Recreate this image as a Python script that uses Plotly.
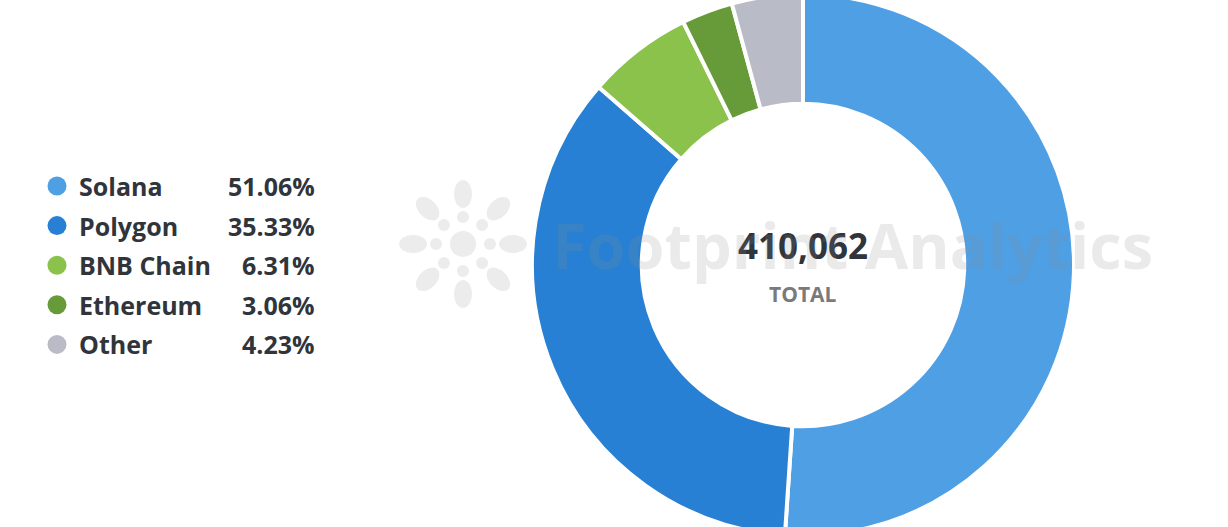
import math
import plotly.graph_objects as go

# ---- data ----
chains = ["Solana", "Polygon", "BNB Chain", "Ethereum", "Other"]
shares = [51.06, 35.33, 6.31, 3.06, 4.23]
colors = ["#4f9fe4", "#2780d3", "#8bc24c", "#679a39", "#b9bbc7"]
total_value = 410062
center_label = "TOTAL"
watermark = "Footprint Analytics"

W, H = 1228, 542
TOP = -6  # screen y of figure top

fig = go.Figure()

# donut
cx, r = 803, 271
fig.add_trace(go.Pie(
    labels=chains, values=shares, sort=False, direction="clockwise",
    hole=0.595, textinfo="none", hoverinfo="label+percent",
    marker=dict(colors=colors, line=dict(color="white", width=4)),
    domain=dict(x=[(cx - r) / W, (cx + r) / W], y=[0, 1]),
    showlegend=False,
))

# custom legend (pixel axes)
row0, step = 186, 39.6
ys = [row0 + i * step for i in range(len(chains))]
fig.add_trace(go.Scatter(
    x=[57] * len(chains), y=ys, mode="markers",
    marker=dict(size=19, color=colors), hoverinfo="skip", showlegend=False,
    xaxis="x", yaxis="y",
))
font = "Open Sans, Noto Sans, sans-serif"
for name, s, y in zip(chains, shares, ys):
    fig.add_annotation(x=77, y=y, xref="x", yref="y", text=f"<b>{name}</b>",
                       showarrow=False, xanchor="left", yanchor="middle",
                       font=dict(family=font, size=25, color="#30343b"))
    fig.add_annotation(x=317, y=y, xref="x", yref="y", text=f"<b>{s:.2f}%</b>",
                       showarrow=False, xanchor="right", yanchor="middle",
                       font=dict(family=font, size=25, color="#30343b"))

# center text
fig.add_annotation(x=cx, y=245, xref="x", yref="y", text=f"<b>{total_value:,}</b>",
                   showarrow=False, xanchor="center", yanchor="middle",
                   font=dict(family=font, size=35, color="#30343b"))
fig.add_annotation(x=cx, y=294, xref="x", yref="y", text=f"<b>{center_label}</b>",
                   showarrow=False, xanchor="center", yanchor="middle",
                   font=dict(family=font, size=21, color="#7a7a7a"))

# watermark text
fig.add_annotation(x=550, y=244, xref="x", yref="y", text=f"<b>{watermark}</b>",
                   showarrow=False, xanchor="left", yanchor="middle",
                   font=dict(family=font, size=63, color="rgba(140,140,140,0.18)"))

# watermark logo (decorative ellipses)
lx, ly = 463, 244
fill = "#ececec"
shapes = [dict(type="circle", xref="x", yref="y", x0=lx - 13, x1=lx + 13, y0=ly - 13, y1=ly + 13,
               fillcolor=fill, line=dict(width=0), layer="below")]
for k in range(8):
    a = k * math.pi / 4
    px, py = lx + 27 * math.cos(a), ly + 27 * math.sin(a)
    shapes.append(dict(type="circle", xref="x", yref="y", x0=px - 6, x1=px + 6, y0=py - 6, y1=py + 6,
                       fillcolor=fill, line=dict(width=0), layer="below"))
    # elongated outer petal as a path polygon
    pts = []
    for t in range(24):
        th = 2 * math.pi * t / 24
        u, v = 14 * math.cos(th), 9 * math.sin(th)
        d = 50 + u
        pts.append((lx + d * math.cos(a) - v * math.sin(a), ly + d * math.sin(a) + v * math.cos(a)))
    path = "M " + " L ".join(f"{x:.1f},{y:.1f}" for x, y in pts) + " Z"
    shapes.append(dict(type="path", xref="x", yref="y", path=path,
                       fillcolor=fill, line=dict(width=0), layer="below"))

fig.update_layout(
    width=W, height=H, margin=dict(l=0, r=0, t=0, b=0),
    paper_bgcolor="white", plot_bgcolor="white",
    xaxis=dict(range=[0, W], domain=[0, 1], visible=False, fixedrange=True),
    yaxis=dict(range=[TOP + H, TOP], domain=[0, 1], visible=False, fixedrange=True),
    shapes=shapes,
)

js = ("var d=document.getElementById('{plot_id}');"
      "document.body.style.margin='0';document.body.style.overflow='hidden';"
      "d.style.marginTop='%dpx';" % TOP)
fig.write_html("out.html", post_script=js, config={"displayModeBar": False})
